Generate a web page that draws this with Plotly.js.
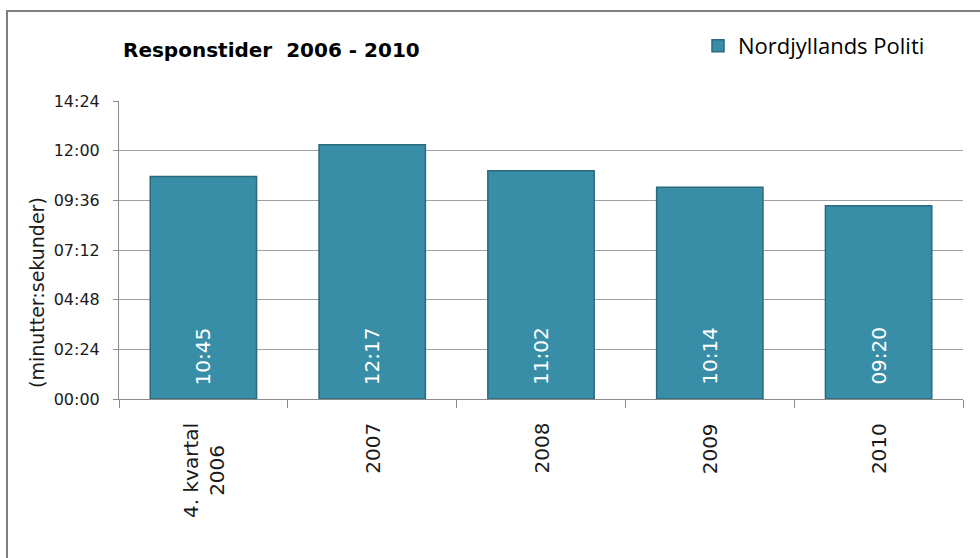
<!DOCTYPE html>
<html>
<head>
<meta charset="utf-8">
<script src="https://cdn.plot.ly/plotly-3.0.1.min.js"></script>
<style>
  html, body { margin: 0; padding: 0; background: #ffffff; }
  #chart { width: 980px; height: 558px; }
</style>
</head>
<body>
<div id="chart"></div>
<script>
// ---- data ----
var categories = ["4. kvartal<br>2006", "2007", "2008", "2009", "2010"];
var valueLabels = ["10:45", "12:17", "11:02", "10:14", "09:20"];
var seriesName = "Nordjyllands Politi";
var yTickLabels = ["00:00", "02:24", "04:48", "07:12", "09:36", "12:00", "14:24"];
var chartTitle = "Responstider&nbsp; 2006 - 2010";
var yAxisTitle = "(minutter:sekunder)";

function toSeconds(s) {
  var p = s.split(":");
  return parseInt(p[0], 10) * 60 + parseInt(p[1], 10);
}
var values = valueLabels.map(toSeconds);
var yTickVals = yTickLabels.map(toSeconds);

// ---- layout geometry (pixels) ----
var W = 980, H = 558;
var mL = 119, mR = 17, mT = 101, mB = 159;
var plotW = W - mL - mR, plotH = H - mT - mB;
function px2x(px) { return (px - mL) / plotW; }
function px2y(py) { return (H - mB - py) / plotH; }

var gridGrey = "#a0a0a0";
var axisGrey = "#8c8c8c";

var trace = {
  type: "bar",
  x: categories,
  y: values,
  name: seriesName,
  marker: { color: "#398ea7", line: { color: "#2a6a7d", width: 1.5 } },
  hoverinfo: "skip",
  showlegend: true
};

var annotations = [];
// category labels (centred multi-line, top aligned under the axis)
categories.forEach(function (c, i) {
  annotations.push({
    x: i, xref: "x", y: px2y(421), yref: "paper",
    yanchor: "top", xanchor: "center",
    text: c, textangle: -90, showarrow: false, align: "center",
    font: { family: "DejaVu Sans", size: 20, color: "#1a1a1a" }
  });
});
// value labels inside bars
categories.forEach(function (c, i) {
  annotations.push({
    x: i, xref: "x", y: 0, yref: "y",
    yanchor: "bottom", xanchor: "center", yshift: 12,
    text: valueLabels[i], textangle: -90, showarrow: false,
    font: { family: "DejaVu Sans", size: 20, color: "#ffffff" }
  });
});
// y axis title
annotations.push({
  x: px2x(37), xref: "paper", y: px2y(293), yref: "paper",
  xanchor: "center", yanchor: "middle",
  text: yAxisTitle, textangle: -90, showarrow: false,
  font: { family: "DejaVu Sans", size: 19, color: "#1a1a1a" }
});

var layout = {
  width: W, height: H,
  margin: { l: mL, r: mR, t: mT, b: mB, pad: 0 },
  paper_bgcolor: "#ffffff",
  plot_bgcolor: "#ffffff",
  showlegend: true,
  title: {
    text: chartTitle,
    font: { family: "DejaVu Sans", size: 20, color: "#000000", weight: "bold" },
    xref: "paper", x: px2x(123), xanchor: "left",
    yref: "container", y: 1 - 50 / H, yanchor: "middle"
  },
  legend: {
    x: px2x(698), xanchor: "left",
    y: px2y(46), yanchor: "middle",
    font: { family: "Open Sans", size: 22, color: "#000000" },
    bgcolor: "rgba(0,0,0,0)"
  },
  bargap: 0.37,
  xaxis: {
    type: "category",
    range: [-0.5, categories.length - 0.5],
    autorange: false,
    showgrid: false,
    showline: true, linecolor: axisGrey, linewidth: 1,
    ticks: "outside", tickson: "boundaries", ticklen: 8, tickcolor: axisGrey,
    showticklabels: false,
    fixedrange: true
  },
  yaxis: {
    range: [0, 864],
    autorange: false,
    tickvals: yTickVals, ticktext: yTickLabels,
    showgrid: true, gridcolor: gridGrey, gridwidth: 1,
    zeroline: false,
    showline: true, linecolor: axisGrey, linewidth: 1,
    ticks: "outside", ticklen: 5, tickcolor: axisGrey,
    ticklabelstandoff: 10,
    tickfont: { family: "DejaVu Sans", size: 16, color: "#1a1a1a" },
    fixedrange: true
  },
  annotations: annotations,
  shapes: [{
    type: "path", xref: "paper", yref: "paper",
    path: "M " + px2x(7) + " " + px2y(560) + " L " + px2x(7) + " " + px2y(11) + " L " + px2x(985) + " " + px2y(11),
    line: { color: "#7f7f7f", width: 2 }
  }]
};

Plotly.newPlot("chart", [trace], layout, { displayModeBar: false, staticPlot: true });
</script>
</body>
</html>
